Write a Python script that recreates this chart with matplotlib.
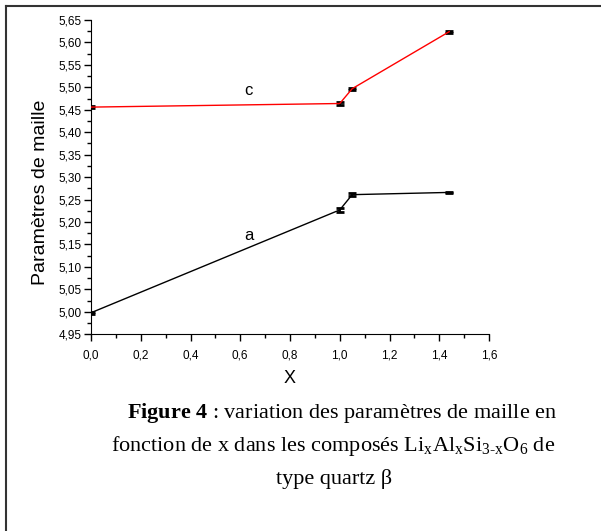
import matplotlib
matplotlib.use('Agg')
import matplotlib.pyplot as plt
from matplotlib.lines import Line2D
from matplotlib.ticker import MultipleLocator, FuncFormatter

plt.rcParams['font.family'] = ['Liberation Sans', 'DejaVu Sans']
plt.rcParams['mathtext.fontset'] = 'custom'
plt.rcParams['mathtext.rm'] = 'Liberation Serif'
plt.rcParams['mathtext.bf'] = 'Liberation Serif:bold'
plt.rcParams['mathtext.it'] = 'Liberation Serif:italic'

# data
x_vals = [0.0, 1.0, 1.05, 1.44]
c_vals = [5.456, 5.464, 5.497, 5.624]
a_vals = [4.998, 5.227, 5.261, 5.266]
c_err = [0.002, 0.004, 0.002, 0.002]
a_err = [0.002, 0.004, 0.004, 0.002]

fig = plt.figure(figsize=(6.01, 5.31), dpi=100)
ax = fig.add_axes([91 / 601, 1 - 334.3 / 531, 398 / 601, 314.3 / 531])

ax.errorbar(x_vals, c_vals, yerr=c_err, color='red', lw=1.0, ecolor='black',
            elinewidth=1.3, capsize=3, capthick=2, zorder=3)
ax.errorbar(x_vals, a_vals, yerr=a_err, color='black', lw=1.0, ecolor='black',
            elinewidth=1.3, capsize=3, capthick=2, zorder=3)

ax.text(0.633, 5.494, 'c', fontsize=12, ha='center', va='center')
ax.text(0.633, 5.171, 'a', fontsize=12, ha='center', va='center')

ax.set_xlim(0, 1.6)
ax.set_ylim(4.95, 5.65)
ax.spines['top'].set_visible(False)
ax.spines['right'].set_visible(False)
ax.xaxis.set_major_locator(MultipleLocator(0.2))
ax.xaxis.set_minor_locator(MultipleLocator(0.1))
ax.yaxis.set_major_locator(MultipleLocator(0.05))
ax.yaxis.set_minor_locator(MultipleLocator(0.025))
ax.xaxis.set_major_formatter(FuncFormatter(lambda v, p: f'{v:.1f}'.replace('.', ',')))
ax.yaxis.set_major_formatter(FuncFormatter(lambda v, p: f'{v:.2f}'.replace('.', ',')))
ax.tick_params(which='major', direction='out', length=5, width=1, labelsize=8.5, pad=2)
ax.tick_params(which='minor', direction='out', length=3, width=1)
ax.tick_params(axis='x', pad=6)

ax.set_xlabel('X', fontsize=13, labelpad=6)
ax.set_ylabel('Paramètres de maille', fontsize=14)
ax.yaxis.set_label_coords(-0.105, 0.453)

# frame around the figure (left and top visible)
fig.add_artist(Line2D([6 / 601, 6 / 601], [0, 1 - 6 / 531], transform=fig.transFigure,
                      color='#333333', lw=1.5))
fig.add_artist(Line2D([6 / 601, 1], [1 - 6 / 531, 1 - 6 / 531], transform=fig.transFigure,
                      color='#333333', lw=1.5))

cap_kw = dict(fontsize=16, ha='center', va='baseline', family='Liberation Serif')
fig.text(342 / 601, 1 - 418 / 531,
         r'$\mathbf{Figure\ 4}$ : variation des paramètres de maille en', **cap_kw)
fig.text(333 / 601, 1 - 451 / 531,
         r'fonction de x dans les composés Li$_{\mathrm{x}}$Al$_{\mathrm{x}}$'
         r'Si$_{\mathrm{3\text{-}x}}$O$_{\mathrm{6}}$ de', **cap_kw)
fig.text(334 / 601, 1 - 484 / 531, 'type quartz β', **cap_kw)

fig.savefig('out.png', dpi=100)
